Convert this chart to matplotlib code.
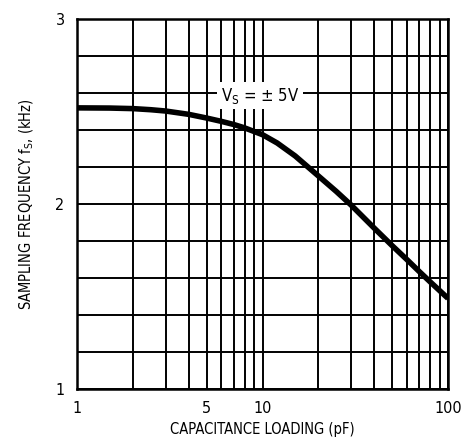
import numpy as np
import matplotlib.pyplot as plt

# curve
cap_pf = [1, 1.5, 2, 2.5, 3, 4, 5, 6, 7, 8, 10, 12, 15, 20, 25, 30, 40, 50, 60, 70, 80, 100]
fs_khz = [2.52, 2.519, 2.516, 2.51, 2.503, 2.485, 2.465, 2.447, 2.43, 2.412, 2.375,
          2.33, 2.26, 2.152, 2.068, 1.995, 1.87, 1.775, 1.70, 1.635, 1.58, 1.49]

x_ticks = [1, 5, 10, 100]
y_ticks = [1, 2, 3]

font = dict(family='DejaVu Sans', stretch='condensed')

fig = plt.figure(figsize=(4.62, 4.43), dpi=100)
ax = fig.add_axes([0.1667, 0.1219, 0.803, 0.835])

ax.set_xscale('log')
ax.set_xlim(1, 100)
ax.set_ylim(1, 3)

# grid: every integer in each decade, y every 0.2
xg = [m * d for d in (1, 10) for m in range(1, 10)] + [100]
for g in xg:
    ax.axvline(g, color='black', lw=1.4, zorder=1)
for g in np.arange(1, 3.01, 0.2):
    ax.axhline(g, color='black', lw=1.4, zorder=1)

ax.plot(cap_pf, fs_khz, color='black', lw=4, zorder=3,
        solid_capstyle='butt', solid_joinstyle='round')

ax.text(9.7, 2.585, r'V$_\mathregular{S}$ = ± 5V', ha='center', va='center',
        fontsize=12, zorder=2, bbox=dict(facecolor='white', edgecolor='none', pad=2.5),
        **font)

ax.set_xticks(x_ticks)
ax.set_xticklabels([str(t) for t in x_ticks], **font)
ax.set_yticks(y_ticks)
ax.set_yticklabels([str(t) for t in y_ticks], **font)
ax.minorticks_off()
ax.tick_params(length=0, labelsize=11.5, pad=9)
for s in ax.spines.values():
    s.set_linewidth(1.8)

ax.set_xlabel('CAPACITANCE LOADING (pF)', fontsize=10.5, labelpad=4, **font)
ax.set_ylabel(r'SAMPLING FREQUENCY f$_\mathregular{S}$, (kHz)', fontsize=10.5, labelpad=14, **font)

fig.savefig('out.png', dpi=100)
